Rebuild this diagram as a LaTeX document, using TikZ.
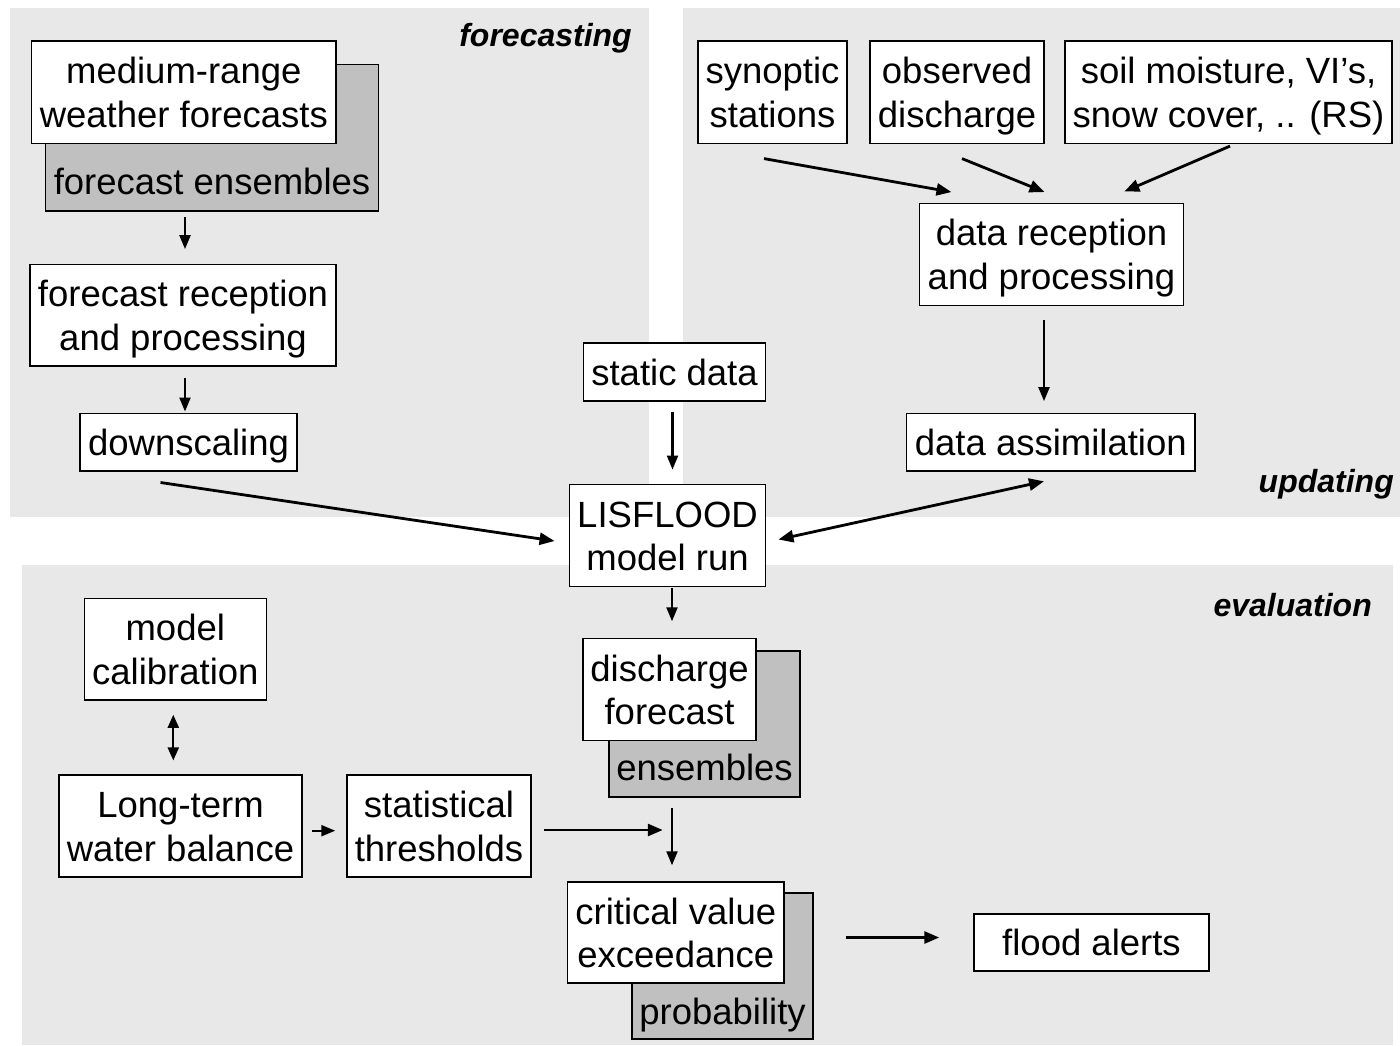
\documentclass[tikz,border=0pt]{standalone}
\usepackage{fontspec}
\setmainfont{Liberation Sans}
\usetikzlibrary{arrows.meta,calc}
\definecolor{panelgray}{RGB}{232,232,232}
\definecolor{shadegray}{RGB}{192,192,192}
\newcommand{\mystrut}{\rule[-7.5pt]{0pt}{41.5pt}}
\begin{document}
\begin{tikzpicture}[x=1pt,y=-1pt,
  whitebox/.style={draw=black, line width=1.5pt, fill=white, inner sep=0pt, align=center, font=\fontsize{36.5}{43.5}\selectfont},
  graybox/.style={draw=black, line width=1.5pt, fill=shadegray, inner sep=0pt},
  txt/.style={inner sep=0pt, anchor=base, font=\fontsize{36.5}{43.5}\selectfont},
  paneltitle/.style={inner sep=0pt, anchor=base east, font=\fontsize{32}{38}\selectfont\bfseries\itshape},
  panel/.style={fill=panelgray, draw=none},
  arr/.style={line width=2.2pt, -{Triangle[length=14pt,width=11pt]}},
  arrthick/.style={line width=2.8pt, -{Triangle[length=15pt,width=12pt]}},
  arrdbl/.style={line width=2.2pt, {Triangle[length=13pt,width=11pt]}-{Triangle[length=13pt,width=11pt]}},
  arrdblthick/.style={line width=2.8pt, {Triangle[length=15pt,width=12pt]}-{Triangle[length=15pt,width=12pt]}},
]
\useasboundingbox (0,0) rectangle (1400,1045);
\fill[white] (0,0) rectangle (1400,1045);

% panels
\fill[panel] (10,8) rectangle (649,517);
\fill[panel] (683,8) rectangle (1400,517);
\fill[panel] (22,565) rectangle (1393,1045);
\node[paneltitle] (tforecast) at (632,46) {forecasting};
\node[paneltitle] (tupdate) at (1394,492) {updating};
\node[paneltitle] (teval) at (1372,616) {evaluation};

% forecasting
\node[graybox, minimum width=332.6, minimum height=146.7] (fe) at (212,137.6) {};
\node[txt] (fetxt) at (212,194.5) {forecast ensembles};
\node[whitebox, minimum width=304.3, minimum height=102.3] (mrw) at (183.8,92.2) {medium-range\mystrut\\weather forecasts\mystrut};
\node[whitebox, minimum width=306, minimum height=101.7] (frp) at (183,315.2) {forecast reception\mystrut\\and processing\mystrut};
\node[whitebox, minimum width=217, minimum height=57.5] (ds) at (188.5,442) {downscaling\mystrut};

% centre
\node[whitebox, minimum width=182.4, minimum height=58.3] (sd) at (674.5,371.9) {static data\mystrut};
\node[whitebox, minimum width=196.4, minimum height=102.4] (lis) at (667.5,535.5) {LISFLOOD\mystrut\\model run\mystrut};

% updating
\node[whitebox, minimum width=149, minimum height=102.3] (syn) at (772.5,92.2) {synoptic\mystrut\\stations\mystrut};
\node[whitebox, minimum width=174, minimum height=102.3] (obs) at (957,92.2) {observed\mystrut\\discharge\mystrut};
\node[whitebox, minimum width=327, minimum height=102.3] (soil) at (1228.5,92.2) {soil moisture, VI’s,\mystrut\\snow cover, .. (RS)\mystrut};
\node[whitebox, minimum width=263.6, minimum height=102.4] (drp) at (1051.5,254.5) {data reception\mystrut\\and processing\mystrut};
\node[whitebox, minimum width=288.3, minimum height=57.7] (da) at (1050.8,442.2) {data assimilation\mystrut};

% evaluation
\node[graybox, minimum width=191, minimum height=146] (ens) at (704.5,724) {};
\node[txt] (enstxt) at (704.5,780.5) {ensembles};
\node[whitebox, minimum width=173, minimum height=102] (dfc) at (669.5,689.5) {discharge\mystrut\\forecast\mystrut};
\node[graybox, minimum width=181, minimum height=146] (prob) at (722.5,966) {};
\node[txt] (probtxt) at (722.5,1024) {probability};
\node[whitebox, minimum width=216.5, minimum height=101] (cve) at (675.8,932.5) {critical value\mystrut\\exceedance\mystrut};
\node[whitebox, minimum width=182, minimum height=101.7] (mc) at (175.3,649.2) {model\mystrut\\calibration\mystrut};
\node[whitebox, minimum width=243, minimum height=101.7] (ltwb) at (180.5,826) {Long-term\mystrut\\water balance\mystrut};
\node[whitebox, minimum width=184, minimum height=101.7] (st) at (439,826) {statistical\mystrut\\thresholds\mystrut};
\node[whitebox, minimum width=235, minimum height=57] (fa) at (1091.5,942.5) {flood alerts\mystrut};

% connectors
\draw[arr] ($(fe.south -| frp.north)+(2,5.5)$) -- ($(frp.north)+(2,-14.5)$);
\draw[arr] ($(frp.south)+(2,11)$) -- ($(ds.north -| frp.south)+(2,-1)$);
\draw[arrthick] ($(ds.south)+(-28,11)$) -- ($(lis.west)+(-14,5.5)$);
\draw[arr] ($(sd.south -| lis.north)+(5,10.5)$) -- ($(lis.north)+(5,-14)$);
\draw[arr] ($(lis.south)+(4.5,1)$) -- ($(dfc.north -| lis.south)+(4.5,-16.5)$);
\draw[arr] ($(ens.south -| lis.south)+(4.5,10)$) -- ($(cve.north -| lis.south)+(4.5,-16)$);
\draw[arrdbl] ($(mc.south)+(-2,14)$) -- ($(ltwb.north -| mc.south)+(-2,-14)$);
\draw[arr] ($(ltwb.east)+(9,4.7)$) -- ($(st.west)+(-11,4.7)$);
\coordinate (thrjoin) at ($(st.east)+(131,4)$);
\draw[arrthick] ($(st.east)+(12,4)$) -- (thrjoin);
\draw[arrthick] ($(prob.east |- cve.east)+(32,5)$) -- ($(fa.west)+(-34,-5)$);

\draw[arrthick] ($(syn.south)+(-8.5,14.5)$) -- ($(drp.north)+(-100,-10.5)$);
\draw[arrthick] ($(obs.south)+(5,14.5)$) -- ($(drp.north)+(-7,-10.5)$);
\draw[arrthick] ($(soil.south)+(1.5,2)$) -- ($(drp.north)+(72.8,-11)$);
\draw[arr] ($(drp.south)+(-7.5,14)$) -- ($(da.north -| drp.south)+(-7.5,-11.5)$);
\draw[arrdblthick] ($(lis.east)+(12,4)$) -- ($(da.south)+(-6.8,9.5)$);
\end{tikzpicture}
\end{document}
